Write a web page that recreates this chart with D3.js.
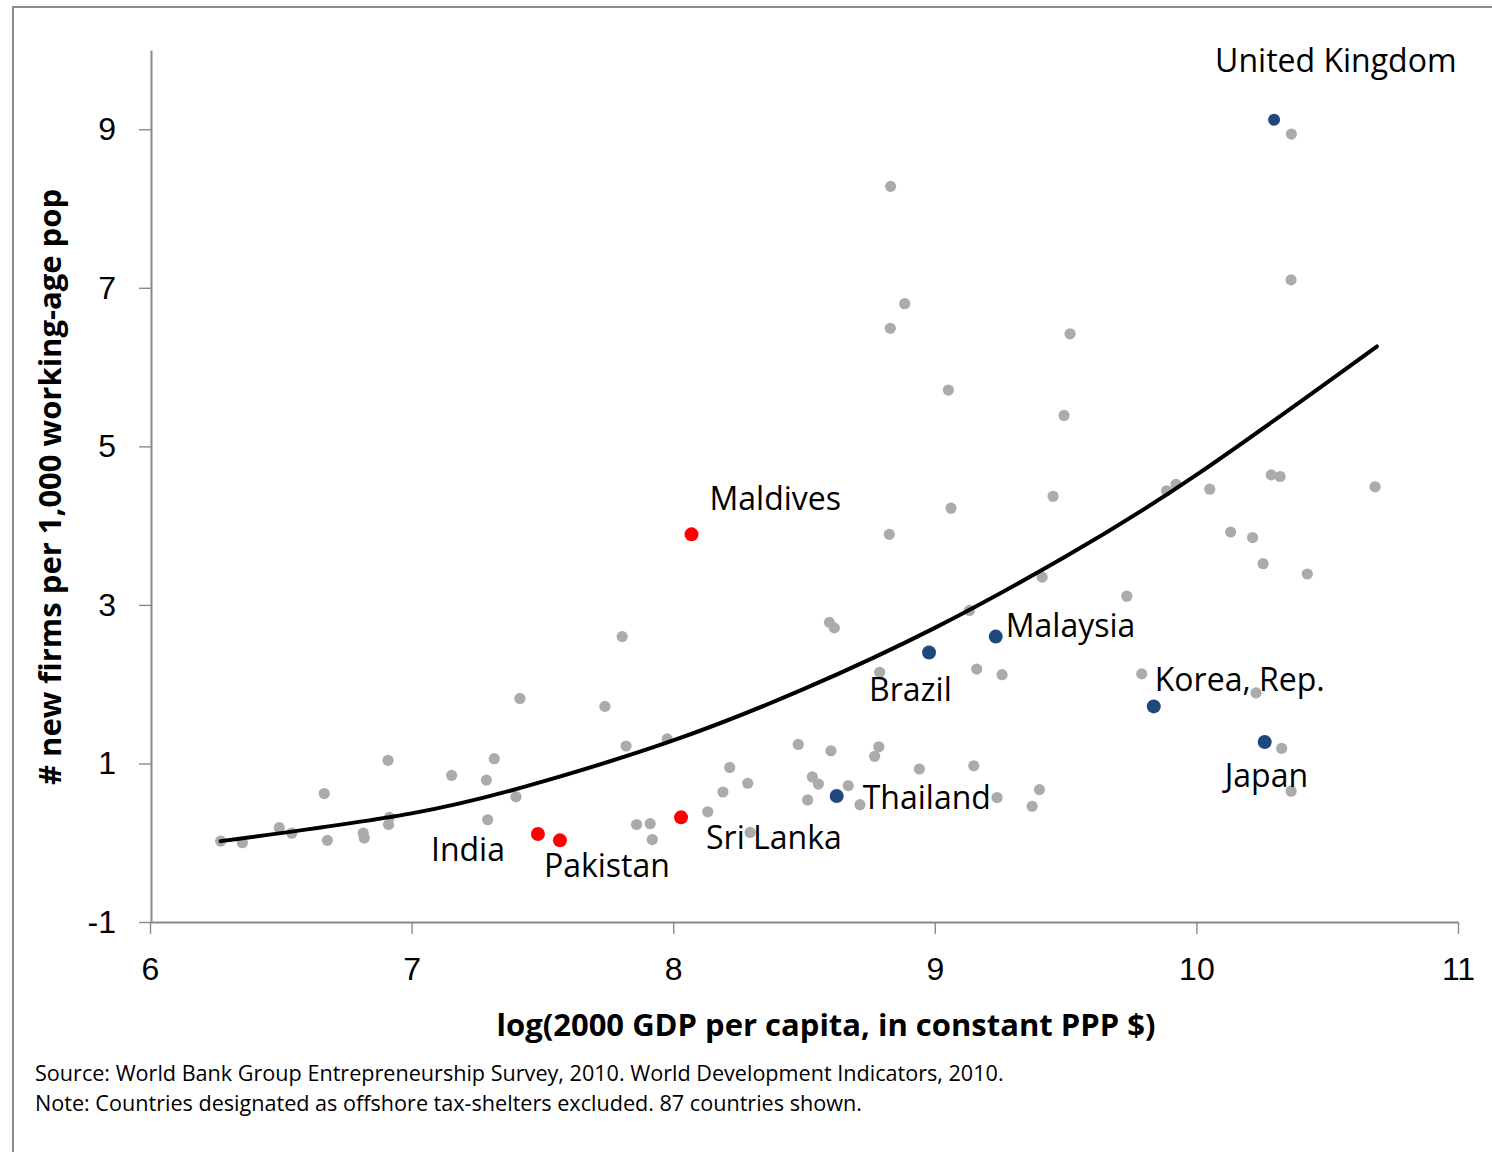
<!doctype html>
<html lang="en">
<head>
<meta charset="utf-8">
<title>New firms vs GDP per capita</title>
<script src="https://cdnjs.cloudflare.com/ajax/libs/d3/7.8.5/d3.min.js"></script>
<style>
 body{margin:0;background:#fff;}
 svg{display:block;font-family:"Open Sans",sans-serif;}
</style>
</head>
<body>
<svg width="1492" height="1152"></svg>
<script>
// other countries (grey dots)
const otherX=[6.270,6.353,6.494,6.542,6.666,6.678,6.815,6.819,6.910,6.915,6.912,7.153,7.286,7.316,7.291,7.399,7.414,
 7.739,7.820,7.977,7.860,7.912,7.920,8.132,8.190,8.216,8.285,8.294,8.478,8.603,8.532,8.555,8.514,8.669,8.714,8.786,
 8.770,8.789,9.160,9.257,9.791,10.228,10.326,8.941,9.149,9.238,9.400,9.372,10.362,9.886,9.922,10.051,10.286,10.320,
 10.683,10.131,10.215,10.255,10.424,9.734,10.363,10.362,8.831,8.885,8.830,9.517,9.052,9.494,9.062,8.826,9.452,9.410,
 7.805,8.597,8.616,9.132];
const otherY=[0.02,0.00,0.19,0.12,0.62,0.03,0.12,0.06,1.04,0.32,0.23,0.85,0.79,1.06,0.29,0.58,1.82,
 1.72,1.22,1.31,0.23,0.24,0.04,0.39,0.64,0.95,0.75,0.13,1.24,1.16,0.83,0.74,0.54,0.72,0.48,1.21,
 1.09,2.15,2.19,2.12,2.13,1.89,1.19,0.93,0.97,0.57,0.67,0.46,0.65,4.44,4.52,4.46,4.64,4.62,
 4.49,3.92,3.85,3.52,3.39,3.11,8.94,7.10,8.28,6.80,6.49,6.42,5.71,5.39,4.22,3.89,4.37,3.35,
 2.60,2.78,2.71,2.93];

// labelled countries
const namedCountries=["United Kingdom","Maldives","Malaysia","Brazil","Korea, Rep.","Japan","Thailand","Sri Lanka","Pakistan","India"];
const namedX=[10.297,8.070,9.233,8.978,9.837,10.261,8.625,8.030,7.567,7.483];
const namedY=[9.12,3.89,2.60,2.40,1.72,1.27,0.59,0.32,0.03,0.11];
const namedGroup=["high","south","high","high","high","high","high","south","south","south"];

// trend line
const trendX=[6.27,7,7.5,8,8.5,9,9.5,10,10.69];
const trendY=[0.02,0.37,0.77,1.29,1.94,2.71,3.61,4.64,6.26];

const xTicks=[6,7,8,9,10,11];
const yTicks=[-1,1,3,5,7,9];

const xTitle="log(2000 GDP per capita, in constant PPP $)";
const yTitle="# new firms per 1,000 working-age pop";
const notes=["Source: World Bank Group Entrepreneurship Survey, 2010. World Development Indicators, 2010.",
 "Note: Countries designated as offshore tax-shelters excluded. 87 countries shown."];

const svg=d3.select("svg");

// frame
svg.append("rect")
 .attr("x",13).attr("y",7)
 .attr("width",1520).attr("height",1200)
 .attr("fill","none").attr("stroke","#8c8c8c").attr("stroke-width",2);

const x=d3.scaleLinear().domain([6,11]).range([150,1458]);
const y=d3.scaleLinear().domain([-1,10]).range([922,50]);

const axisColor="#8a8a8a";

const gx=svg.append("g").attr("transform","translate(0,922)")
 .call(d3.axisBottom(x).tickValues(xTicks).tickFormat(d=>String(d)).tickSize(12).tickSizeOuter(0).tickPadding(23));
gx.select(".domain").attr("stroke",axisColor).attr("stroke-width",2.2);
gx.selectAll(".tick line").attr("stroke",axisColor).attr("stroke-width",1.4);
gx.selectAll(".tick text").attr("fill","#000").style("font-size","32px");

const gy=svg.append("g").attr("transform","translate(151,0)")
 .call(d3.axisLeft(y).tickValues(yTicks).tickFormat(d=>String(d)).tickSize(12).tickSizeOuter(0).tickPadding(23));
gy.select(".domain").attr("stroke",axisColor).attr("stroke-width",2);
gy.selectAll(".tick line").attr("stroke",axisColor).attr("stroke-width",1.4);
gy.selectAll(".tick text").attr("fill","#000").style("font-size","32px");

// axis titles
svg.append("text")
 .attr("x",826).attr("y",1036)
 .attr("text-anchor","middle")
 .style("font-size","31px").style("font-weight","bold")
 .text(xTitle);

svg.append("text")
 .attr("transform","translate(61,487) rotate(-90)")
 .attr("text-anchor","middle")
 .style("font-size","31px").style("font-weight","bold")
 .text(yTitle);

// notes
svg.selectAll(".note").data(notes).enter().append("text")
 .attr("class","note")
 .attr("x",35).attr("y",(d,i)=>1081+i*30)
 .style("font-size","21.6px")
 .text(d=>d);

// grey dots
const others=otherX.map((v,i)=>({x:v,y:otherY[i]}));
svg.append("g").selectAll("circle").data(others).enter().append("circle")
 .attr("cx",d=>x(d.x)).attr("cy",d=>y(d.y)).attr("r",5.6)
 .attr("fill","#ababab");

// trend
const trend=trendX.map((v,i)=>[v,trendY[i]]);
svg.append("path")
 .datum(trend)
 .attr("fill","none").attr("stroke","#000").attr("stroke-width",4)
 .attr("stroke-linecap","round")
 .attr("d",d3.line().x(d=>x(d[0])).y(d=>y(d[1])).curve(d3.curveNatural));

// named countries
const colors={high:"#1f497d",south:"#ff0000"};
const named=namedCountries.map((n,i)=>({name:n,x:namedX[i],y:namedY[i],g:namedGroup[i]}));
svg.append("g").selectAll("circle").data(named).enter().append("circle")
 .attr("cx",d=>x(d.x)).attr("cy",d=>y(d.y))
 .attr("r",d=>d.name=="United Kingdom"?6:7)
 .attr("fill",d=>colors[d.g]);

// label placement relative to each dot
const labelOffset={
 "United Kingdom":[-59,-48],
 "Maldives":[18,-24],
 "Malaysia":[10,0],
 "Brazil":[-60,49],
 "Korea, Rep.":[1,-15],
 "Japan":[-40,45],
 "Thailand":[26,13],
 "Sri Lanka":[25,32],
 "Pakistan":[-16,37],
 "India":[-107,27]
};
svg.append("g").selectAll("text").data(named).enter().append("text")
 .attr("x",d=>x(d.x)+labelOffset[d.name][0])
 .attr("y",d=>y(d.y)+labelOffset[d.name][1])
 .style("font-size","32px")
 .text(d=>d.name);
</script>
</body>
</html>
